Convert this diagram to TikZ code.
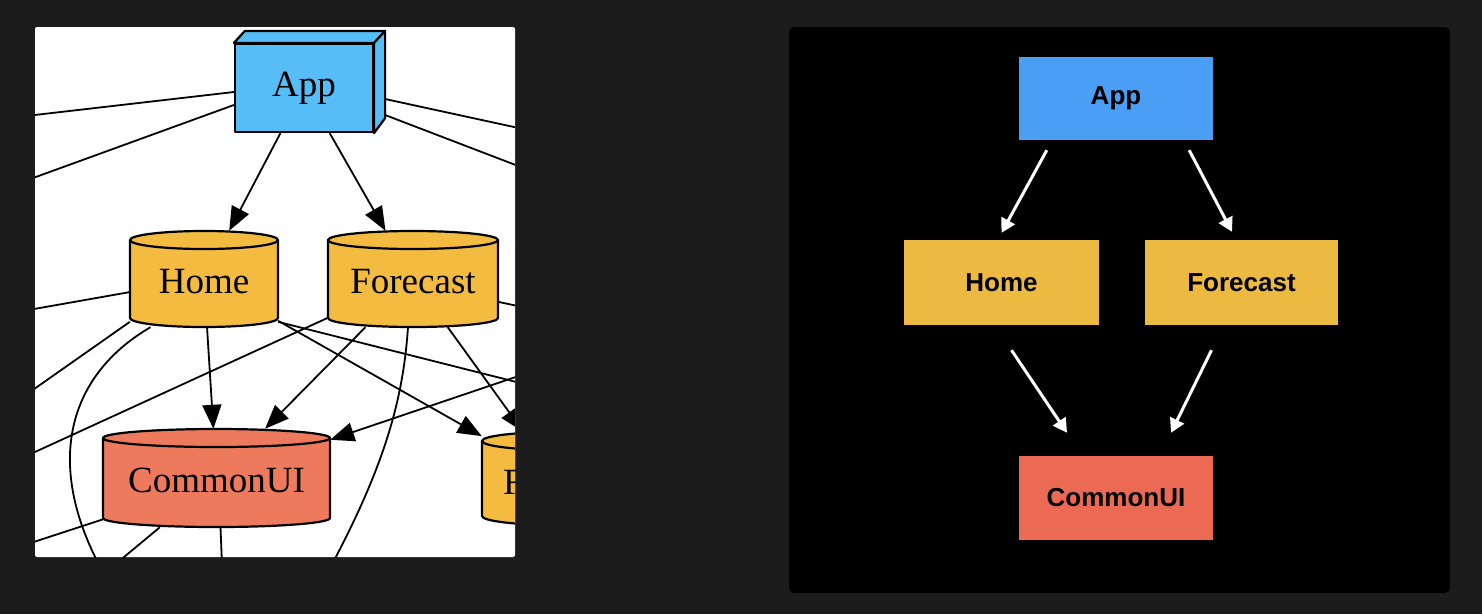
\documentclass[tikz,border=0pt]{standalone}
\usepackage{fontspec}
\newfontfamily\serifdg{Liberation Serif}
\newfontfamily\sansdg{Liberation Sans}
\usetikzlibrary{arrows.meta}
\definecolor{slidebg}{HTML}{1C1C1C}
\definecolor{appblue}{HTML}{56BDF6}
\definecolor{modyellow}{HTML}{F3BC41}
\definecolor{uired}{HTML}{EE7A5D}
\definecolor{rappblue}{HTML}{4A9EF3}
\definecolor{rmodyellow}{HTML}{EDBA41}
\definecolor{ruired}{HTML}{EC6A54}
% Zylinder: Mitte x, Mitte y, halbe Breite, halbe Hoehe, Farbe
\newcommand{\cylbody}[5]{%
  \filldraw[boxline,fill=#5] (#1-#3,#2-#4+9) -- (#1-#3,#2+#4-9)
    arc[start angle=180,end angle=360,x radius=#3pt,y radius=9pt]
    -- (#1+#3,#2-#4+9)
    arc[start angle=0,end angle=180,x radius=#3pt,y radius=9pt] -- cycle;
  \draw[boxline] (#1-#3,#2-#4+9)
    arc[start angle=180,end angle=360,x radius=#3pt,y radius=9pt];
}
\begin{document}
\begin{tikzpicture}[x=1pt,y=-1pt,
  boxline/.style={draw=black,line width=2.2pt,line join=round},
  serifnode/.style={rectangle,inner sep=0pt,font=\serifdg\fontsize{37}{40}\selectfont},
  cyltext/.style={serifnode,text height=29pt,text depth=0pt},
  gvedge/.style={line width=1.8pt},
  gvarrow/.style={gvedge,-{Triangle[length=24pt,width=19pt]}},
  flatbox/.style={rectangle,inner sep=0pt,font=\sansdg\bfseries\fontsize{26}{30}\selectfont},
  warrow/.style={white,line width=3pt,-{Triangle[length=14pt,width=15pt]}}]
% Hintergrund
\fill[slidebg] (0,0) rectangle (1482,614);
\useasboundingbox (0,0) rectangle (1482,614);
% linkes Panel: Graphviz-Ausschnitt
\fill[white,rounded corners=2pt] (35,27) rectangle (515,557);
\begin{scope}
\clip (35,27) rectangle (515,557);
% Knoten
\node[serifnode,boxline,fill=appblue,minimum width=138pt,minimum height=88pt] (app) at (304,88) {App};
\draw[boxline,fill=appblue] (app.north west) -- ([shift={(11pt,12pt)}]app.north west)
  -- ([shift={(11pt,12pt)}]app.north east) -- (app.north east) -- cycle;
\draw[boxline,fill=appblue] (app.north east) -- ([shift={(11pt,12pt)}]app.north east)
  -- ([shift={(11pt,15pt)}]app.south east) -- (app.south east) -- cycle;
\cylbody{204}{279}{74}{48}{modyellow}
\node[cyltext,minimum width=148pt,minimum height=96pt] (home) at (204,279) {Home};
\cylbody{413}{279}{85}{48}{modyellow}
\node[cyltext,minimum width=170pt,minimum height=96pt] (forecast) at (413,279) {Forecast};
\cylbody{216.5}{478}{113.5}{49}{uired}
\node[cyltext,minimum width=227pt,minimum height=98pt] (common) at (216.5,478) {CommonUI};
\cylbody{557}{478.5}{75}{46.5}{modyellow}
\node[rectangle,minimum width=150pt,minimum height=93pt] (feat) at (557,478.5) {};
\node[serifnode,anchor=west] (featlbl) at (503,482) {F};
% freie Enden ausserhalb des Ausschnitts
\coordinate (e1) at (560,362);
\coordinate (e2) at (560,393);
\coordinate (e3) at (560,315);
\coordinate (e4) at (560,137);
\coordinate (e5) at (560,182);
\coordinate (w1) at (0,468);
\coordinate (w2) at (0,413);
\coordinate (w3) at (0,315);
\coordinate (w4) at (0,553);
\coordinate (w5) at (0,119);
\coordinate (w6) at (0,190);
\coordinate (s1) at (318,590);
\coordinate (s2) at (100,577);
\coordinate (s3) at (223,590);
\coordinate (s4) at (120,600);
% Kanten mit Pfeil
\draw[gvarrow] (app) -- (home);
\draw[gvarrow] (app) -- (forecast);
\draw[gvarrow] (home) -- (common);
\draw[gvarrow] (forecast) -- (common);
\draw[gvarrow] (e1) -- (common);
\draw[gvarrow] (home) -- (feat);
\draw[gvarrow] (forecast) -- (feat);
% weitere Kanten
\draw[gvedge] ([yshift=-4pt]app.west) -- (w5);
\draw[gvedge] ([yshift=-17pt]app.west) -- (w6);
\draw[gvedge] ([shift={(11pt,-11pt)}]app.east) -- (e4);
\draw[gvedge] ([shift={(11pt,-27pt)}]app.east) -- (e5);
\draw[gvedge] (home.190) -- (w3);
\draw[gvedge] (home.210) -- (w2);
\draw[gvedge] (home.222) .. controls (60,380) and (40,480) .. (s4);
\draw[gvedge] (home.330) -- (e2);
\draw[gvedge] (forecast) -- (w1);
\draw[gvedge] (forecast.345) -- (e3);
\draw[gvedge] ([xshift=-5pt]forecast.south) .. controls (403,400) and (385,470) .. (s1);
\draw[gvedge] (common.200) -- (w4);
\draw[gvedge] (common.221) -- (s2);
\draw[gvedge] ([xshift=4pt]common.south) -- (s3);
\end{scope}
% rechtes Panel: vereinfachte Darstellung
\fill[black,rounded corners=5pt] (789,27) rectangle (1450,593);
\node[flatbox,fill=rappblue,minimum width=194pt,minimum height=83pt] (rapp) at (1116,98.5) {App};
\node[flatbox,fill=rmodyellow,minimum width=195pt,minimum height=85pt] (rhome) at (1001.5,282.5) {Home};
\node[flatbox,fill=rmodyellow,minimum width=193pt,minimum height=85pt] (rforecast) at (1241.5,282.5) {Forecast};
\node[flatbox,fill=ruired,minimum width=194pt,minimum height=84pt] (rcommon) at (1116,498) {CommonUI};
% weisse Pfeile
\draw[warrow] ([shift={(28pt,-10pt)}]rapp.south west) -- ([yshift=7pt]rhome.north);
\draw[warrow] ([shift={(-24pt,-10pt)}]rapp.south east) -- ([shift={(-9.5pt,8pt)}]rforecast.north);
\draw[warrow] ([shift={(10pt,-25pt)}]rhome.south) -- ([shift={(-49pt,23pt)}]rcommon.north);
\draw[warrow] ([shift={(-30pt,-25pt)}]rforecast.south) -- ([shift={(55pt,23pt)}]rcommon.north);
\end{tikzpicture}
\end{document}
